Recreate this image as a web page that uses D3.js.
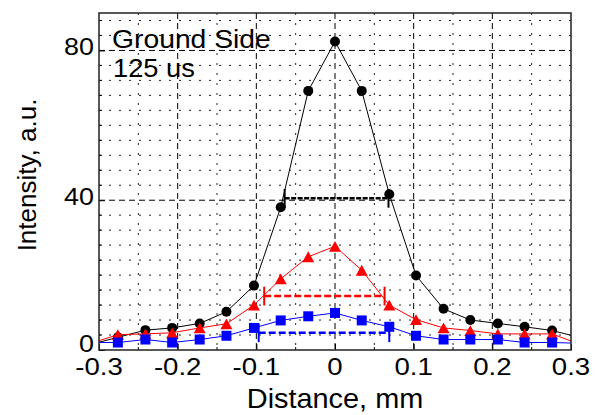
<!DOCTYPE html>
<html>
<head>
<meta charset="utf-8">
<script src="https://cdn.jsdelivr.net/npm/d3@7"></script>
<style>
  html, body { margin: 0; padding: 0; background: #fff; }
  svg { display: block; font-family: "Liberation Sans", Arial, sans-serif; }
</style>
</head>
<body>
<div id="chart"></div>
<script>
// sample positions, mm
var distance = [-0.31, -0.276, -0.241, -0.207, -0.172, -0.138, -0.103, -0.069, -0.034, 0,
  0.034, 0.069, 0.103, 0.138, 0.172, 0.207, 0.241, 0.276, 0.31]

// intensity of the three profiles
var blackSeries = [1.5, 3.4, 5.3, 5.9, 7.1, 10.2, 17.2, 38.1, 69.2, 82.4,
  69.2, 41.6, 19.9, 11.0, 8.0, 7.1, 6.2, 5.2, 3.4]
var redSeries = [1.8, 4.1, 4.3, 4.6, 5.9, 7.0, 12.0, 19.0, 24.9, 27.7,
  21.3, 12.0, 8.1, 5.9, 5.2, 4.3, 4.3, 4.3, 1.6]
var blueSeries = [2.0, 2.0, 2.8, 2.0, 2.8, 3.8, 5.9, 7.9, 9.0, 9.9,
  7.9, 6.2, 3.8, 2.8, 2.8, 2.8, 2.0, 2.0, 1.8]

// half-maximum width markers: black, red, blue
var fwhmLeft = [-0.064, -0.090, -0.097]
var fwhmRight = [0.068, 0.063, 0.069]
var fwhmLevel = [40.5, 14.4, 4.6]

var xTicks = [-0.3, -0.2, -0.1, 0, 0.1, 0.2, 0.3]
var xMinor = [-0.25, -0.15, -0.05, 0.05, 0.15, 0.25]
var yTicks = [0, 40, 80]

var W = 602
var H = 415
var box = { left: 99, right: 571, top: 13, bottom: 350 }

var svg = d3.select('#chart').append('svg')
  .attr('width', W)
  .attr('height', H)

var x = d3.scaleLinear().domain([-0.3, 0.3]).range([box.left, box.right])
var y = d3.scaleLinear().domain([0, 90]).range([box.bottom, box.top])

var yMinor = d3.range(4, 90, 4).filter(function (v) { return yTicks.indexOf(v) < 0 })

svg.append('clipPath').attr('id', 'plotclip')
  .append('rect')
  .attr('x', box.left).attr('y', box.top)
  .attr('width', box.right - box.left).attr('height', box.bottom - box.top)

// grid: dotted minor, dashed major
var grid = svg.append('g')
grid.selectAll('.vminor').data(xMinor).enter().append('line')
  .attr('x1', d => x(d)).attr('x2', d => x(d))
  .attr('y1', box.top).attr('y2', box.bottom)
  .attr('stroke', '#222').attr('stroke-width', 1).attr('stroke-dasharray', '2,8')
grid.selectAll('.hminor').data(yMinor).enter().append('line')
  .attr('x1', box.left).attr('x2', box.right)
  .attr('y1', d => y(d)).attr('y2', d => y(d))
  .attr('stroke', '#222').attr('stroke-width', 1).attr('stroke-dasharray', '2,8')
grid.selectAll('.vmajor').data(xTicks.slice(1, -1)).enter().append('line')
  .attr('x1', d => x(d)).attr('x2', d => x(d))
  .attr('y1', box.top).attr('y2', box.bottom)
  .attr('stroke', '#000').attr('stroke-width', 1).attr('stroke-dasharray', '6,4')
grid.selectAll('.hmajor').data(yTicks.slice(1)).enter().append('line')
  .attr('x1', box.left).attr('x2', box.right)
  .attr('y1', d => y(d)).attr('y2', d => y(d))
  .attr('stroke', '#000').attr('stroke-width', 1).attr('stroke-dasharray', '6,4')

// text drawn slightly wide, like the original figure
function label (px, py, str, size, sx, anchor, rot) {
  return svg.append('text')
    .attr('transform', 'translate(' + px + ',' + py + ')' + (rot ? ' rotate(' + rot + ')' : '') + ' scale(' + sx + ',1)')
    .attr('text-anchor', anchor || 'start')
    .attr('font-size', size)
    .attr('fill', '#000')
    .text(str)
}

// axes: inward ticks only, labels drawn separately
var xAxis = svg.append('g')
  .attr('transform', 'translate(0,' + box.bottom + ')')
  .call(d3.axisBottom(x).tickValues(xTicks).tickSize(-6).tickFormat(''))
var yAxis = svg.append('g')
  .attr('transform', 'translate(' + box.left + ',0)')
  .call(d3.axisLeft(y).tickValues(yTicks).tickSize(-6).tickFormat(''))
xAxis.select('.domain').remove()
yAxis.select('.domain').remove()

xTicks.forEach(function (v) { label(x(v), 375, String(v), 24, 1.15, 'middle') })
yTicks.forEach(function (v) { label(94, y(v) + (v === 0 ? 2 : 5), String(v), 24, 1.12, 'end') })

// minor ticks
svg.append('g').selectAll('line').data(xMinor).enter().append('line')
  .attr('x1', d => x(d)).attr('x2', d => x(d))
  .attr('y1', box.bottom).attr('y2', box.bottom - 3)
  .attr('stroke', '#000')
svg.append('g').selectAll('line').data(yMinor).enter().append('line')
  .attr('x1', box.left).attr('x2', box.left + 3)
  .attr('y1', d => y(d)).attr('y2', d => y(d))
  .attr('stroke', '#000')

// series
var plot = svg.append('g').attr('clip-path', 'url(#plotclip)')
var line = d3.line().x((d, i) => x(distance[i])).y(d => y(d))

function triangle (s) {
  var h = s * 0.9
  return 'M0,' + (-h / 2) + 'L' + (s / 2) + ',' + (h / 2) + 'L' + (-s / 2) + ',' + (h / 2) + 'Z'
}

plot.append('path').datum(blackSeries).attr('d', line)
  .attr('fill', 'none').attr('stroke', '#000').attr('stroke-width', 1)
plot.selectAll('.dotk').data(blackSeries).enter().append('circle')
  .attr('cx', (d, i) => x(distance[i])).attr('cy', d => y(d)).attr('r', 5)
  .attr('fill', '#000')

plot.append('path').datum(redSeries).attr('d', line)
  .attr('fill', 'none').attr('stroke', '#ff0000').attr('stroke-width', 1)
plot.selectAll('.dotr').data(redSeries).enter().append('path')
  .attr('transform', (d, i) => 'translate(' + x(distance[i]) + ',' + y(d) + ')')
  .attr('d', triangle(12)).attr('fill', '#ff0000')

plot.append('path').datum(blueSeries).attr('d', line)
  .attr('fill', 'none').attr('stroke', '#0000ff').attr('stroke-width', 1)
plot.selectAll('.dotb').data(blueSeries).enter().append('rect')
  .attr('x', (d, i) => x(distance[i]) - 5).attr('y', d => y(d) - 5)
  .attr('width', 10).attr('height', 10).attr('fill', '#0000ff')

// width markers
var markColors = ['#000', '#ff0000', '#0000ff']
var markDash = ['5,1.5', '7,3', '7,3']
fwhmLevel.forEach(function (lv, i) {
  var g = plot.append('g').attr('stroke', markColors[i]).attr('stroke-width', 2.5)
  g.append('line')
    .attr('x1', x(fwhmLeft[i])).attr('x2', x(fwhmRight[i]))
    .attr('y1', y(lv)).attr('y2', y(lv))
    .attr('stroke-dasharray', markDash[i])
  ;[fwhmLeft[i], fwhmRight[i]].forEach(function (xv) {
    g.append('line')
      .attr('x1', x(xv)).attr('x2', x(xv))
      .attr('y1', y(lv + 2.5)).attr('y2', y(lv - 2.5))
      .attr('stroke-width', 2)
  })
})

// frame
svg.append('rect')
  .attr('x', box.left).attr('y', box.top)
  .attr('width', box.right - box.left).attr('height', box.bottom - box.top)
  .attr('fill', 'none').attr('stroke', '#222').attr('stroke-width', 1.5)

// annotation
label(112, 48, 'Ground Side', 25.5, 1.11)
label(113, 77, '125 us', 25.5, 1.07)

// axis titles
label((box.left + box.right) / 2, 408, 'Distance, mm', 27.5, 1.05, 'middle')
label(36, 175, 'Intensity, a.u.', 26, 1, 'middle', -90)
</script>
</body>
</html>
